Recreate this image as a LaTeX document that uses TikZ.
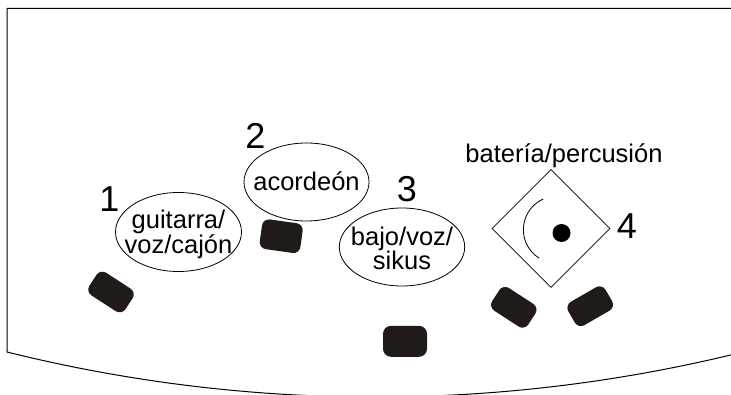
\documentclass[tikz,border=0pt]{standalone}
\usepackage{fontspec}
\setmainfont{Liberation Sans}
\usetikzlibrary{shapes.geometric}
\definecolor{wedgeblack}{RGB}{32,27,24}

\begin{document}
\begin{tikzpicture}[x=1pt,y=1pt,
        player/.style={inner sep=0pt,align=center,font=\fontsize{25.5}{23.5}\selectfont},
        ring/.style={line width=0.8pt},
        wedge/.style={rectangle,rounded corners=7pt,fill=wedgeblack,inner sep=0pt,minimum width=43pt,minimum height=27pt},
        num/.style={inner sep=0pt,font=\fontsize{36}{36}\selectfont}]
        \useasboundingbox (0,0) rectangle (731,394);
        \clip (0,0) rectangle (731,394);

        % stage outline
        \coordinate (TR) at (731,385.7);
        \coordinate (TL) at (7,385.7);
        \coordinate (BL) at (7,42);
        \draw[line width=1pt] (TR) -- (TL) -- (BL) arc[start angle=-103.96,end angle=-75,radius=1525];

        % musicians
        \node[player] (guit) at (178.5,160) {guitarra/\\voz/cajón};
        \node[player] (acord) at (306.5,213) {acordeón};
        \node[player] (bajo) at (402,145.5) {bajo/voz/\\sikus};
        \draw[ring] (178.5,162) ellipse [x radius=63,y radius=39.5];
        \draw[ring] (306.5,212) ellipse [x radius=62.5,y radius=39];
        \draw[ring] (402,147) ellipse [x radius=62.7,y radius=39];

        \node[num] (n1) at (109.5,194.5) {1};
        \node[num] (n2) at (255.3,258) {2};
        \node[num] (n3) at (407,204.5) {3};

        % drums
        \node[draw,diamond,line width=0.8pt,inner sep=0pt,minimum width=118pt,minimum height=118pt] (kit) at (551,165.5) {};
        \node[num] (n4) at (627,168) {4};
        \node[anchor=base,inner sep=0pt,font=\fontsize{25.5}{25.5}\selectfont] (kitlbl) at (564,231.5) {batería/percusión};
        \coordinate (hub) at (557,164.3);
        \coordinate (pad) at (561.5,161);
        \draw[line width=0.8pt] (hub) ++(114:33.6) arc[start angle=114,end angle=238,radius=33.6];
        \fill (pad) circle (9);

        % monitors
        \node[wedge,rotate=-33] (m1) at (111,102) {};
        \node[wedge,rotate=-8,minimum width=41pt,minimum height=30pt] (m2) at (281.2,157.8) {};
        \node[wedge,minimum width=44pt,minimum height=31pt,rounded corners=8pt] (m3) at (405,52.7) {};
        \node[wedge,rotate=-33] (m4) at (513.8,86.7) {};
        \node[wedge,rotate=30] (m5) at (590.2,87.8) {};
\end{tikzpicture}
\end{document}
